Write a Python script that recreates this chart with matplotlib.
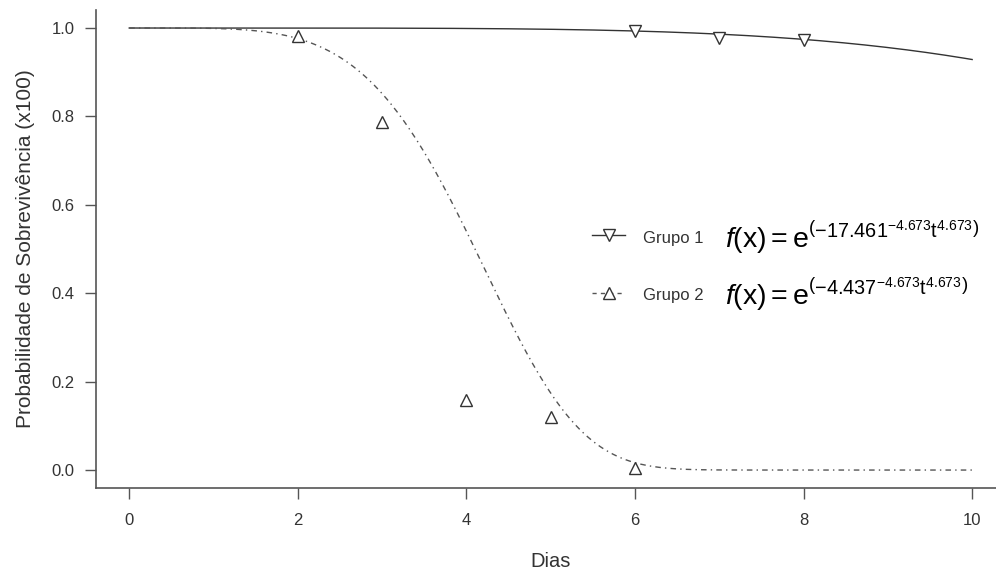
import numpy as np
import matplotlib
matplotlib.use("Agg")
import matplotlib.pyplot as plt

plt.rcParams['font.family'] = ['Liberation Sans', 'DejaVu Sans']
plt.rcParams['mathtext.fontset'] = 'custom'
plt.rcParams['mathtext.rm'] = 'Liberation Sans'
plt.rcParams['mathtext.it'] = 'Liberation Sans:italic'

# observed survival (x100)
dias_g1 = [6, 7, 8]
surv_g1 = [0.994, 0.977, 0.973]
dias_g2 = [2, 3, 4, 5, 6]
surv_g2 = [0.982, 0.787, 0.158, 0.119, 0.005]

# fitted Weibull parameters shown in the legend
escala_g1 = 17.461
escala_g2 = 4.437
forma = 4.673

x_ticks = [0, 2, 4, 6, 8, 10]
y_ticks = [0.0, 0.2, 0.4, 0.6, 0.8, 1.0]

cor = "#333333"
eixo = "#555555"

fig = plt.figure(figsize=(9.96, 5.74), dpi=100)
ax = fig.add_axes([0.0959, 0.1503, 0.914, 0.8317])

t = np.linspace(0, 10, 400)
ax.plot(t, np.exp(-(t / escala_g1) ** forma), color=cor, lw=1.0)
ax.plot(t, np.exp(-(t / escala_g2) ** forma), color="#555555", lw=1.0,
        linestyle=(0, (4, 3, 1, 3)))

ax.plot(dias_g1, surv_g1, linestyle="none", marker="v", ms=8,
        mfc="white", mec=cor, mew=1.0)
ax.plot(dias_g2, surv_g2, linestyle="none", marker="^", ms=8,
        mfc="white", mec=cor, mew=1.0)

ax.set_xlim(-0.4, 10.4)
ax.set_ylim(-0.04, 1.04)
ax.set_xticks(x_ticks)
ax.set_yticks(y_ticks)
ax.set_xticklabels([str(v) for v in x_ticks])
ax.set_yticklabels(["%.1f" % v for v in y_ticks])
ax.spines['top'].set_visible(False)
ax.spines['right'].set_visible(False)
for s in ['left', 'bottom']:
    ax.spines[s].set_color(eixo)
    ax.spines[s].set_linewidth(1.2)
ax.tick_params(direction='out', length=8, width=1, color=eixo,
               labelsize=12, labelcolor=cor, pad=7)
ax.tick_params(axis='x', pad=10.5)

ax.set_xlabel("Dias", fontsize=14.5, color=cor, labelpad=17)
ax.set_ylabel("Probabilidade de Sobrevivência (x100)", fontsize=15,
              color=cor, labelpad=12)

# legenda
tr = ax.transAxes
ax.plot([0.545, 0.582], [0.529, 0.529], color=cor, lw=1.0, transform=tr)
ax.plot([0.564], [0.529], marker="v", ms=8, mfc="white", mec=cor,
        mew=1.0, transform=tr)
ax.plot([0.545, 0.582], [0.408, 0.408], color="#555555", lw=1.0,
        linestyle=(0, (3, 3)), transform=tr)
ax.plot([0.564], [0.408], marker="^", ms=8, mfc="white", mec=cor,
        mew=1.0, transform=tr)

ax.text(0.601, 0.5126, "Grupo 1", transform=tr, fontsize=12, color=cor,
        va="baseline", ha="left")
ax.text(0.601, 0.393, "Grupo 2", transform=tr, fontsize=12, color=cor,
        va="baseline", ha="left")
ax.text(0.691, 0.502,
        r"$f(\mathrm{x}) = \mathrm{e}^{\left(-17.461^{-4.673}\mathrm{t}^{4.673}\right)}$",
        transform=tr, fontsize=20.5, color="black", va="baseline", ha="left")
ax.text(0.691, 0.381,
        r"$f(\mathrm{x}) = \mathrm{e}^{\left(-4.437^{-4.673}\mathrm{t}^{4.673}\right)}$",
        transform=tr, fontsize=20.5, color="black", va="baseline", ha="left")

fig.savefig("out.png", dpi=100)
